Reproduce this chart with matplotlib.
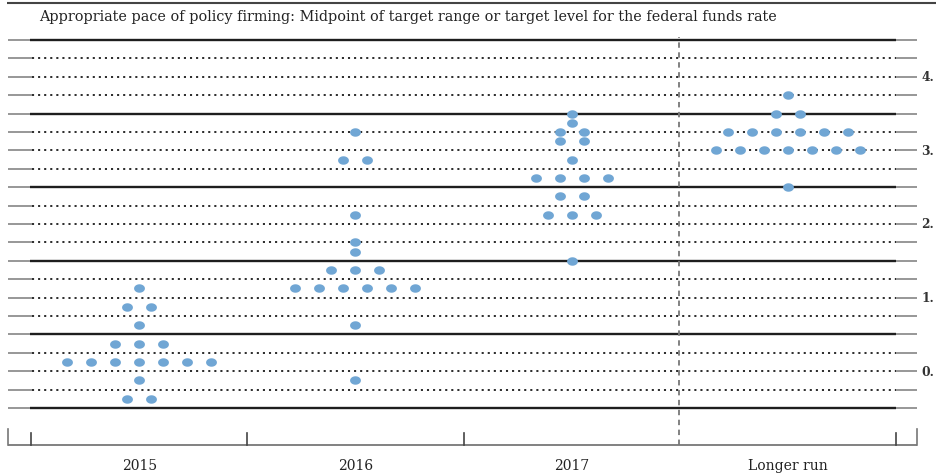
import numpy as np
import matplotlib.pyplot as plt
from matplotlib.path import Path

# dot plot data: rate level -> number of participants
columns = ['2015', '2016', '2017', 'Longer run']
rates_2015 = [0.125, 0.375, 0.625, 0.875, 1.125, 1.375, 1.625]
counts_2015 = [2, 1, 7, 3, 1, 2, 1]
rates_2016 = [0.375, 1.125, 1.625, 1.875, 2.125, 2.25, 2.625, 3.375, 3.75]
counts_2016 = [1, 1, 6, 3, 1, 1, 1, 2, 1]
rates_2017 = [2.0, 2.625, 2.875, 3.125, 3.375, 3.625, 3.75, 3.875, 4.0]
counts_2017 = [1, 3, 2, 4, 1, 2, 2, 1, 1]
rates_lr = [3.0, 3.5, 3.75, 4.0, 4.25]
counts_lr = [1, 7, 6, 2, 1]
# right-hand labels as they show in the (cropped) picture
label_levels = [0.5, 1.5, 2.5, 3.5, 4.5]
right_labels = ['0.', '1.', '2.', '3.', '4.']
title = ('Appropriate pace of policy firming: Midpoint of target range '
         'or target level for the federal funds rate')

all_rates = [rates_2015, rates_2016, rates_2017, rates_lr]
all_counts = [counts_2015, counts_2016, counts_2017, counts_lr]

fig = plt.figure(figsize=(9.36, 4.77), dpi=100)
ax = fig.add_axes([0, 0, 1, 1])
ax.set_xlim(-0.6434, 3.685)
ax.set_ylim(-0.924, 5.557)
ax.axis('off')

serif = 'DejaVu Serif'
x_left, x_in, x_out, x_right = -0.606, -0.494, 3.498, 3.598

# top rule and title
ax.plot([-0.611, 3.7], [5.503, 5.503], color='#444444', lw=1.5, solid_capstyle='butt')
ax.text(-0.461, 5.33, title, family=serif, fontsize=10.4, va='center', ha='left',
        color='#222222')

# horizontal grid lines
levels = np.arange(0, 5.01, 0.25)
for v in levels:
    ax.plot([x_left, x_in], [v, v], color='#7a7a7a', lw=1.1, solid_capstyle='butt')
    ax.plot([x_out, x_right], [v, v], color='#7a7a7a', lw=1.1, solid_capstyle='butt')
    if abs(v - round(v)) < 1e-9:
        ax.plot([x_in - 0.01, x_out], [v, v], color='#1e1e1e', lw=1.7,
                solid_capstyle='butt')
    else:
        ax.plot([x_in, x_out], [v, v], color='#111111', lw=1.25,
                linestyle=(0, (1.2, 2.3)))

for lv, lab in zip(label_levels, right_labels):
    ax.text(3.618, lv, lab, family=serif, fontsize=8.8, fontweight='bold',
            va='center', ha='left', color='#333333')

# vertical separator for the longer run
ax.plot([2.497, 2.497], [-0.503, 5.04], color='#777777', lw=1.3,
        linestyle=(0, (3, 2.5)))

# bottom axis with column boundaries
ax.plot([x_left, x_right + 0.001], [-0.503, -0.503], color='#777777', lw=1.3,
        solid_capstyle='butt')
for b in [-0.5, 0.5, 1.5, 3.5]:
    ax.plot([b, b], [-0.503, -0.34], color='#444444', lw=1.2)
for b in [x_left, x_right]:
    ax.plot([b, b], [-0.503, -0.29], color='#777777', lw=1.2)
for i, name in enumerate(columns):
    ax.text(i, -0.774, name, family=serif, fontsize=10, ha='center', va='center',
            color='#222222')

# elliptical dots
t = np.linspace(0, 2 * np.pi, 60)
ellipse = Path(np.column_stack([np.cos(t), 0.78 * np.sin(t)]))
step = 0.111
for col, (rates, counts) in enumerate(zip(all_rates, all_counts)):
    for r, n in zip(rates, counts):
        xs = col + (np.arange(n) - (n - 1) / 2) * step
        ax.plot(xs, [r] * n, linestyle='none', marker=ellipse, markersize=7.8,
                color='#70a6d4', markeredgewidth=0, zorder=5)

fig.savefig('out.png', dpi=100)
